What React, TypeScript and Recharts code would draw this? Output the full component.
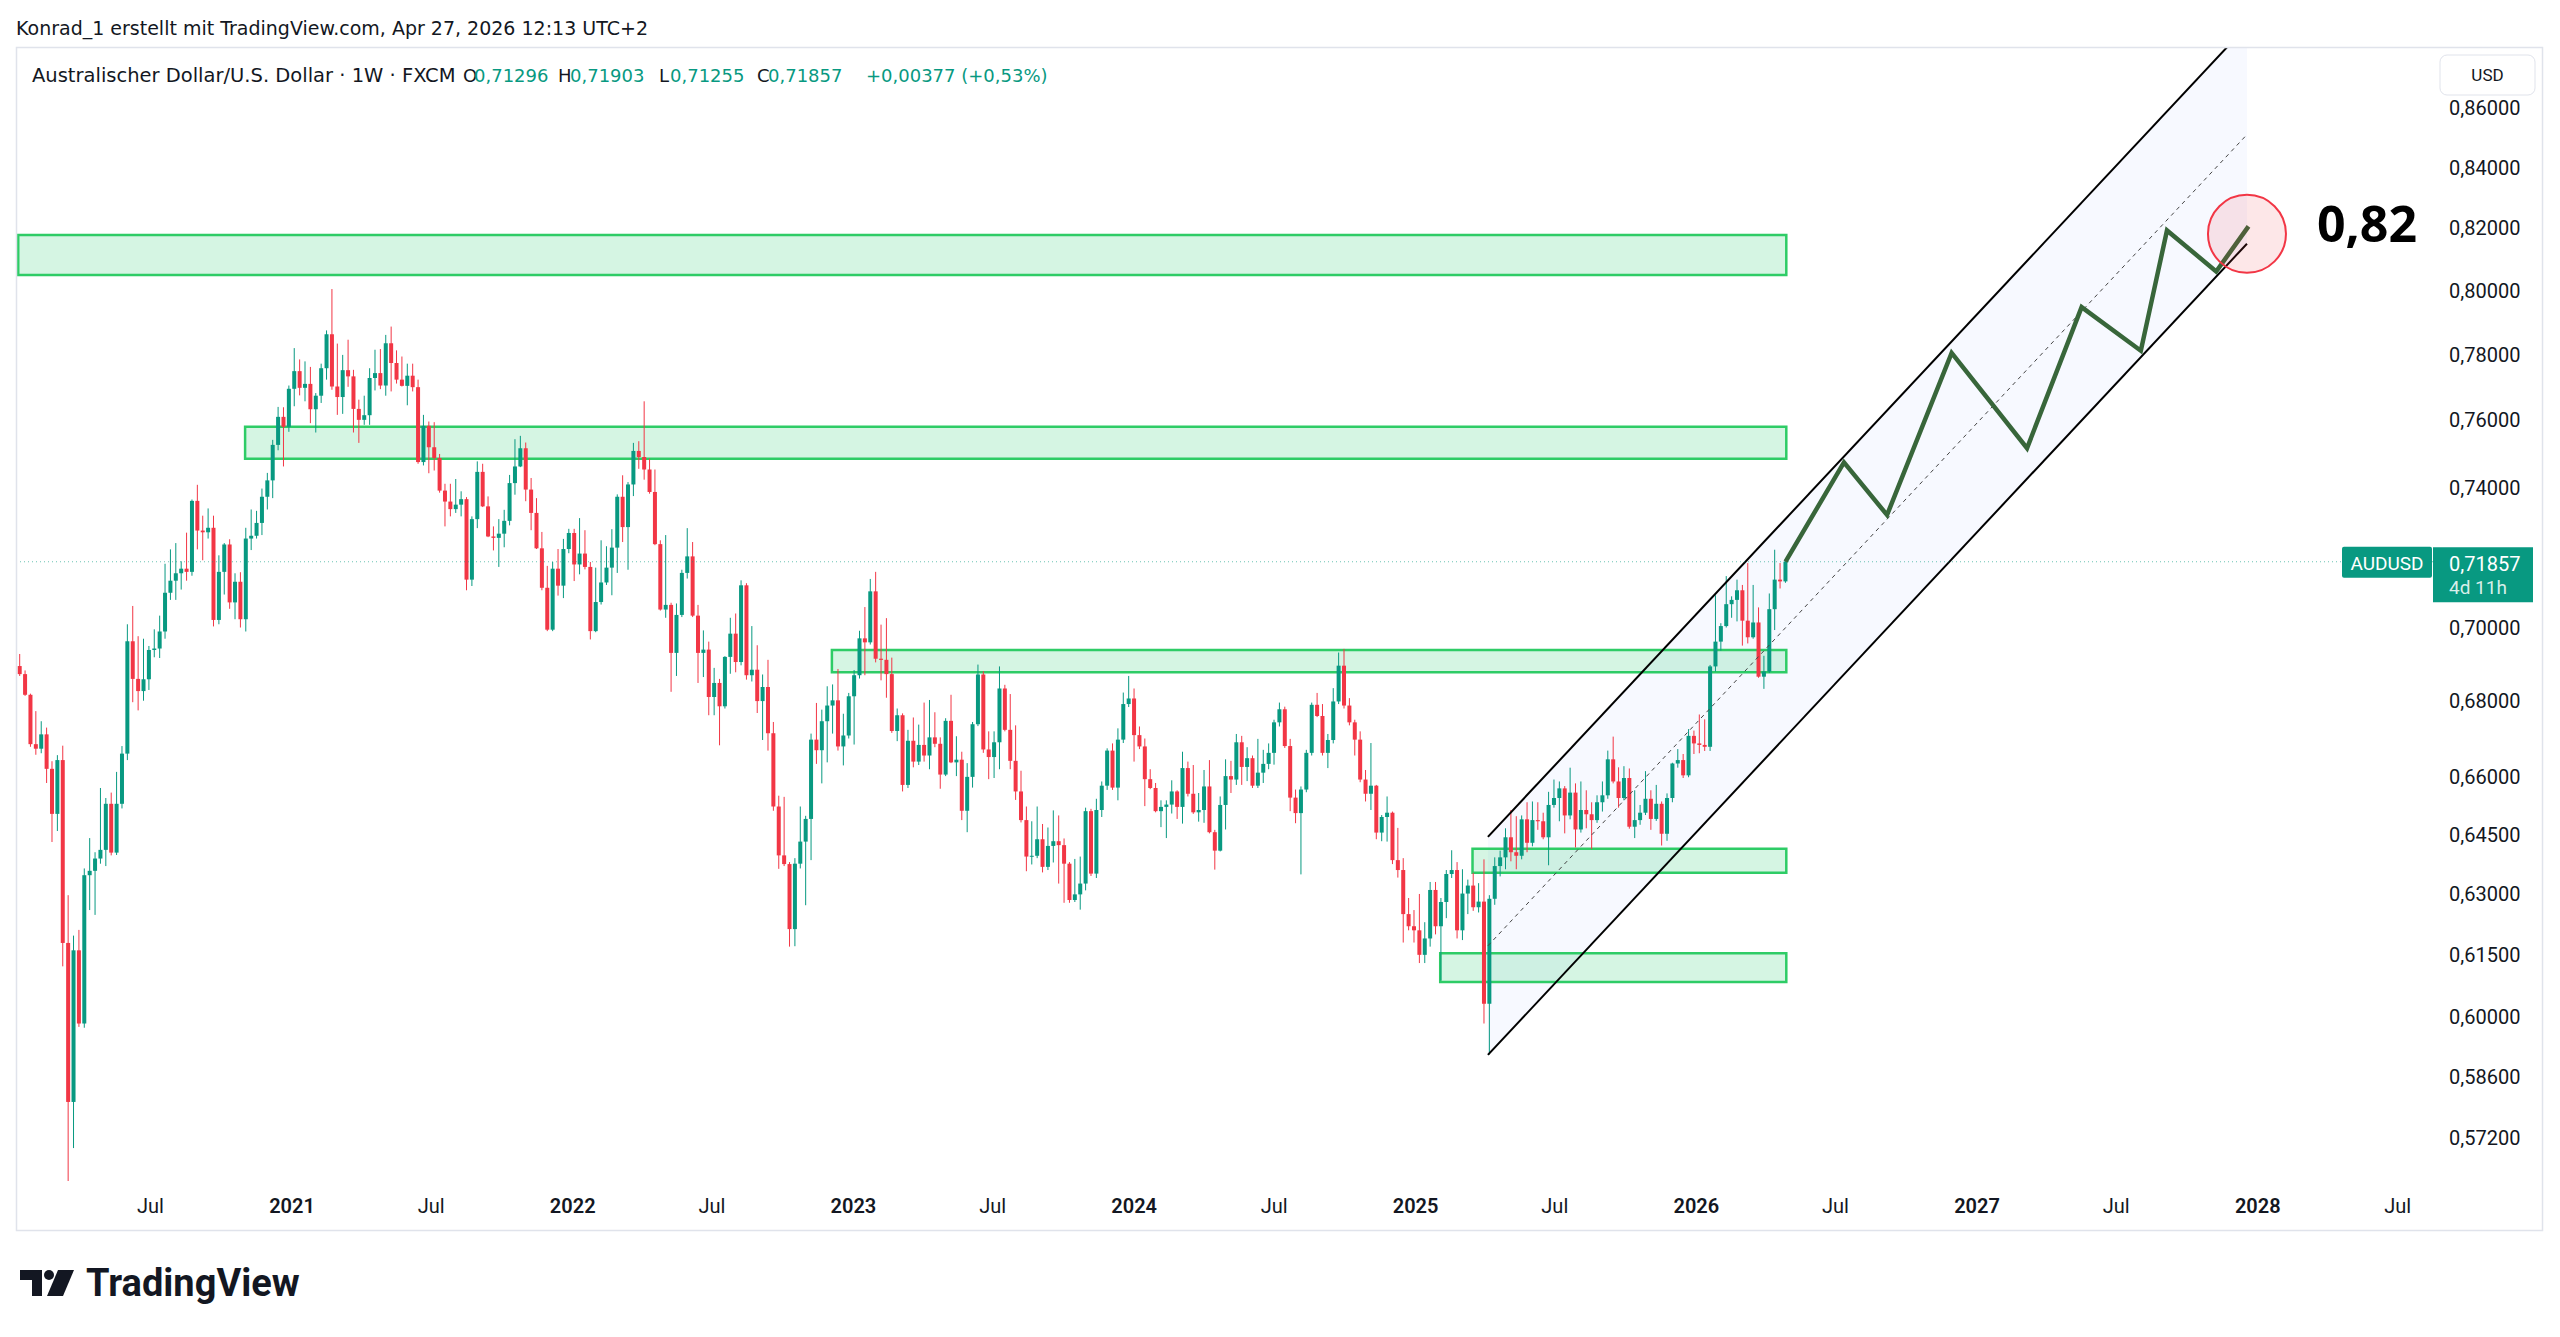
import React from 'react'
import {
  ComposedChart,
  Bar,
  Line,
  Area,
  XAxis,
  YAxis,
  ReferenceLine,
  ReferenceArea,
  ReferenceDot,
} from 'recharts'

const UP = '#089981'
const DOWN = '#f23645'
const INK = '#131722'
const UI_FONT = 'Roboto, "Noto Sans", sans-serif'
const HEAD_FONT = '"DejaVu Sans", Roboto, sans-serif'
const BODY_W = 4

// AUDUSD weekly candles (FXCM), [open, high, low, close] in pips, first bar = week of 13 Jan 2020
const FIRST_WEEK = '2020-01-13'

const candles2020 = [
  [6895, 6928, 6868, 6873], [6873, 6883, 6814, 6817], [6817, 6820, 6678, 6685], [6685, 6773, 6657, 6673],
  [6673, 6746, 6661, 6711], [6711, 6729, 6583, 6620], [6620, 6640, 6431, 6503], [6503, 6656, 6459, 6643],
  [6643, 6681, 6122, 6179], [6179, 6297, 5510, 5802], [5802, 6197, 5697, 6161], [6161, 6211, 5977, 5985],
  [5985, 6364, 5975, 6347], [6347, 6441, 6260, 6358], [6358, 6405, 6248, 6389], [6389, 6570, 6376, 6411],
  [6411, 6544, 6370, 6529], [6529, 6558, 6397, 6404], [6404, 6612, 6398, 6529], [6529, 6680, 6517, 6660],
  [6660, 7010, 6643, 6963], [6963, 7061, 6797, 6860], [6860, 6977, 6775, 6827], [6827, 6970, 6801, 6859],
  [6859, 6950, 6830, 6939], [6939, 6996, 6919, 6943], [6943, 7034, 6917, 6990], [6990, 7180, 6970, 7098],
  [7098, 7221, 7078, 7132], [7132, 7239, 7078, 7153], [7153, 7187, 7107, 7166], [7166, 7269, 7132, 7157],
  [7157, 7365, 7146, 7361], [7361, 7408, 7221, 7275], [7275, 7318, 7190, 7270], [7270, 7339, 7252, 7283],
  [7283, 7318, 7004, 7022], [7022, 7204, 7010, 7157], [7157, 7239, 7093, 7235], [7235, 7250, 7053, 7071],
  [7071, 7153, 7024, 7129], [7129, 7156, 7001, 7024], [7024, 7283, 6990, 7252], [7252, 7336, 7219, 7260],
  [7260, 7332, 7252, 7297], [7297, 7397, 7262, 7373], [7373, 7443, 7336, 7421], [7421, 7541, 7369, 7526],
  [7526, 7640, 7510, 7610], [7610, 7639, 7462, 7580], [7580, 7705, 7565, 7695],
]

const candles2021 = [
  [7695, 7820, 7642, 7749], [7749, 7785, 7675, 7698], [7698, 7779, 7657, 7710], [7710, 7762, 7591, 7633],
  [7633, 7682, 7563, 7674], [7674, 7772, 7652, 7758], [7758, 7875, 7723, 7863], [7863, 8005, 7692, 7702],
  [7702, 7834, 7616, 7670], [7670, 7799, 7619, 7752], [7752, 7846, 7701, 7733], [7733, 7753, 7563, 7634],
  [7634, 7662, 7532, 7601], [7601, 7674, 7586, 7615], [7615, 7758, 7586, 7728], [7728, 7815, 7690, 7743],
  [7743, 7817, 7694, 7705], [7705, 7861, 7674, 7835], [7835, 7887, 7687, 7774], [7774, 7813, 7711, 7723],
  [7723, 7794, 7702, 7704], [7704, 7772, 7645, 7735], [7735, 7772, 7687, 7700], [7700, 7723, 7470, 7475],
  [7475, 7616, 7465, 7583], [7583, 7596, 7442, 7519], [7519, 7594, 7450, 7487], [7487, 7499, 7385, 7391],
  [7391, 7411, 7287, 7359], [7359, 7411, 7316, 7337], [7337, 7425, 7326, 7350], [7350, 7389, 7316, 7366],
  [7366, 7372, 7105, 7135], [7135, 7316, 7117, 7308], [7308, 7477, 7282, 7446], [7446, 7470, 7343, 7345],
  [7345, 7374, 7256, 7258], [7258, 7287, 7218, 7254], [7254, 7308, 7171, 7266], [7266, 7335, 7227, 7303],
  [7303, 7437, 7290, 7413], [7413, 7543, 7379, 7462], [7462, 7553, 7460, 7516], [7516, 7533, 7360, 7394],
  [7394, 7428, 7276, 7326], [7326, 7369, 7222, 7224], [7224, 7271, 7105, 7112], [7112, 7174, 6991, 6995],
  [6995, 7185, 6991, 7166], [7166, 7222, 7090, 7118], [7118, 7251, 7083, 7222], [7222, 7280, 7210, 7268],
]

const candles2022 = [
  [7268, 7280, 7131, 7178], [7178, 7311, 7150, 7209], [7209, 7276, 7164, 7171], [7171, 7185, 6968, 6991],
  [6991, 7169, 6988, 7072], [7072, 7247, 7065, 7127], [7127, 7230, 7120, 7169], [7169, 7279, 7091, 7226],
  [7226, 7380, 7154, 7373], [7373, 7436, 7242, 7285], [7285, 7416, 7163, 7409], [7409, 7532, 7375, 7508],
  [7508, 7537, 7455, 7490], [7490, 7657, 7423, 7453], [7453, 7485, 7382, 7387], [7387, 7453, 7233, 7236],
  [7236, 7247, 7048, 7051], [7051, 7262, 7028, 7064], [7064, 7070, 6825, 6931], [6931, 7068, 6868, 7036],
  [7036, 7163, 7030, 7154], [7154, 7282, 7138, 7201], [7201, 7242, 7030, 7034], [7034, 7064, 6849, 6931],
  [6931, 6993, 6865, 6940], [6940, 6962, 6762, 6811], [6811, 6890, 6762, 6849], [6849, 6860, 6682, 6786],
  [6786, 6922, 6780, 6920], [6920, 7028, 6874, 6984], [6984, 7040, 6878, 6906], [6906, 7133, 6897, 7119],
  [7119, 7125, 6858, 6870], [6870, 7005, 6853, 6885], [6885, 6952, 6768, 6800], [6800, 6872, 6696, 6838],
  [6838, 6912, 6668, 6714], [6714, 6744, 6511, 6522], [6522, 6550, 6363, 6397], [6397, 6547, 6370, 6375],
  [6375, 6380, 6170, 6213], [6213, 6390, 6171, 6376], [6376, 6522, 6364, 6432], [6432, 6498, 6272, 6490],
  [6490, 6713, 6385, 6697], [6697, 6795, 6633, 6669], [6669, 6777, 6582, 6746], [6746, 6840, 6637, 6788],
  [6788, 6845, 6713, 6802], [6802, 6887, 6668, 6679], [6679, 6766, 6629, 6708], [6708, 6822, 6700, 6813],
]

const candles2023 = [
  [6813, 6884, 6684, 6870], [6870, 6992, 6861, 6971], [6971, 7058, 6870, 6960], [6960, 7137, 6954, 7102],
  [7102, 7157, 6905, 6915], [6915, 7009, 6856, 6912], [6912, 7027, 6809, 6873], [6873, 6918, 6715, 6720],
  [6720, 6780, 6693, 6762], [6762, 6767, 6561, 6578], [6578, 6723, 6570, 6694], [6694, 6756, 6624, 6639],
  [6639, 6737, 6630, 6683], [6683, 6796, 6639, 6655], [6655, 6803, 6619, 6703], [6703, 6770, 6677, 6686],
  [6686, 6703, 6568, 6605], [6605, 6754, 6601, 6747], [6747, 6817, 6635, 6637], [6637, 6706, 6601, 6644],
  [6644, 6665, 6487, 6511], [6511, 6635, 6456, 6599], [6599, 6744, 6571, 6738], [6738, 6899, 6733, 6872],
  [6872, 6881, 6662, 6671], [6671, 6719, 6593, 6651], [6651, 6719, 6596, 6690], [6690, 6894, 6619, 6834],
  [6834, 6844, 6719, 6723], [6723, 6819, 6619, 6641], [6641, 6735, 6539, 6561], [6561, 6615, 6481, 6487],
  [6487, 6522, 6357, 6394], [6394, 6484, 6374, 6396], [6396, 6522, 6390, 6438], [6438, 6477, 6354, 6368],
  [6368, 6468, 6360, 6421], [6421, 6512, 6379, 6433], [6433, 6499, 6326, 6423], [6423, 6440, 6278, 6376],
  [6376, 6380, 6278, 6285], [6285, 6388, 6280, 6299], [6299, 6394, 6261, 6326], [6326, 6519, 6309, 6510],
  [6510, 6516, 6345, 6351], [6351, 6542, 6340, 6513], [6513, 6587, 6495, 6576], [6576, 6674, 6565, 6668],
  [6668, 6687, 6565, 6571], [6571, 6727, 6538, 6697], [6697, 6823, 6688, 6792], [6792, 6868, 6784, 6807],
]

const candles2024 = [
  [6807, 6834, 6639, 6709], [6709, 6732, 6672, 6679], [6679, 6700, 6523, 6593], [6593, 6619, 6567, 6570],
  [6570, 6583, 6507, 6510], [6510, 6538, 6469, 6521], [6521, 6538, 6441, 6527], [6527, 6590, 6504, 6561],
  [6561, 6564, 6490, 6521], [6521, 6665, 6478, 6622], [6622, 6639, 6548, 6555], [6555, 6630, 6503, 6507],
  [6507, 6557, 6483, 6513], [6513, 6617, 6480, 6574], [6574, 6643, 6453, 6456], [6456, 6462, 6361, 6409],
  [6409, 6548, 6407, 6526], [6526, 6645, 6463, 6601], [6601, 6641, 6557, 6592], [6592, 6712, 6578, 6690],
  [6690, 6707, 6578, 6625], [6625, 6677, 6588, 6648], [6648, 6655, 6570, 6576], [6576, 6699, 6570, 6610],
  [6610, 6670, 6583, 6633], [6633, 6687, 6619, 6662], [6662, 6750, 6631, 6743], [6743, 6796, 6732, 6778],
  [6778, 6785, 6675, 6680], [6680, 6699, 6510, 6545], [6545, 6566, 6479, 6505], [6505, 6574, 6349, 6566],
  [6566, 6670, 6559, 6662], [6662, 6796, 6655, 6790], [6790, 6822, 6757, 6760], [6760, 6792, 6655, 6662],
  [6662, 6712, 6622, 6696], [6696, 6835, 6687, 6799], [6799, 6932, 6792, 6896], [6896, 6942, 6780, 6788],
  [6788, 6808, 6735, 6743], [6743, 6750, 6655, 6697], [6697, 6719, 6585, 6592], [6592, 6617, 6535, 6555],
  [6555, 6688, 6513, 6576], [6576, 6578, 6438, 6455], [6455, 6500, 6433, 6495], [6495, 6548, 6432, 6506],
  [6506, 6509, 6375, 6385], [6385, 6467, 6341, 6360], [6360, 6390, 6180, 6250], [6250, 6290, 6210, 6220],
  [6220, 6260, 6180, 6210],
]

const candles2025 = [
  [6210, 6300, 6130, 6150], [6150, 6230, 6130, 6190], [6190, 6330, 6170, 6310], [6310, 6330, 6200, 6220],
  [6220, 6290, 6088, 6280], [6280, 6360, 6240, 6350], [6350, 6410, 6340, 6360], [6360, 6380, 6190, 6210],
  [6210, 6362, 6186, 6301], [6301, 6336, 6250, 6321], [6321, 6353, 6258, 6267], [6267, 6327, 6254, 6281],
  [6281, 6387, 5985, 6032], [6032, 6297, 5912, 6288], [6288, 6392, 6273, 6370], [6370, 6409, 6344, 6392],
  [6392, 6466, 6362, 6443], [6443, 6513, 6382, 6405], [6405, 6497, 6362, 6396], [6396, 6499, 6387, 6489],
  [6489, 6533, 6405, 6429], [6429, 6535, 6420, 6487], [6487, 6533, 6462, 6484], [6484, 6506, 6438, 6443],
  [6443, 6560, 6372, 6526], [6526, 6592, 6519, 6544], [6544, 6587, 6484, 6569], [6569, 6575, 6453, 6499],
  [6499, 6623, 6489, 6558], [6558, 6582, 6417, 6463], [6463, 6587, 6455, 6513], [6513, 6564, 6466, 6502],
  [6502, 6533, 6413, 6487], [6487, 6551, 6480, 6533], [6533, 6587, 6509, 6551], [6551, 6668, 6542, 6645],
  [6645, 6705, 6582, 6587], [6587, 6624, 6519, 6544], [6544, 6627, 6538, 6596], [6596, 6621, 6465, 6470],
  [6470, 6564, 6441, 6487], [6487, 6526, 6475, 6506], [6506, 6614, 6500, 6542], [6542, 6564, 6462, 6490],
  [6490, 6578, 6485, 6529], [6529, 6535, 6422, 6452], [6452, 6556, 6434, 6544], [6544, 6636, 6533, 6634],
  [6634, 6672, 6623, 6643], [6643, 6659, 6596, 6603], [6603, 6725, 6598, 6707], [6707, 6721, 6659, 6687],
]

const candles2026 = [
  [6687, 6764, 6661, 6683], [6683, 6751, 6667, 6678], [6678, 6898, 6667, 6894], [6894, 7091, 6880, 6962],
  [6962, 7013, 6937, 7005], [7005, 7145, 7001, 7066], [7066, 7088, 7028, 7078], [7078, 7135, 7018, 7105],
  [7105, 7120, 6951, 7020], [7020, 7182, 6957, 6974], [6974, 7120, 6970, 7015], [7015, 7057, 6863, 6866],
  [6866, 6923, 6833, 6880], [6880, 7096, 6876, 7052], [7052, 7220, 6994, 7135], [7135, 7182, 7110, 7130],
  [7130, 7190, 7126, 7186],
]

const lastPrice = 0.71857

// price axis labels
const priceTicks = [0.572, 0.586, 0.6, 0.615, 0.63, 0.645, 0.66, 0.68, 0.7, 0.74, 0.76, 0.78, 0.8, 0.82, 0.84, 0.86]

// time axis labels
const timeTickDates = [
  '2020-07-01', '2021-01-01', '2021-07-01', '2022-01-01', '2022-07-01', '2023-01-01', '2023-07-01',
  '2024-01-01', '2024-07-01', '2025-01-01', '2025-07-01', '2026-01-01', '2026-07-01', '2027-01-01',
  '2027-07-01', '2028-01-01', '2028-07-01',
]
const timeTickLabels = [
  'Jul', '2021', 'Jul', '2022', 'Jul', '2023', 'Jul', '2024', 'Jul', '2025', 'Jul', '2026', 'Jul', '2027',
  'Jul', '2028', 'Jul',
]

// support / resistance boxes
const zoneStarts = ['2020-01-11', '2020-11-01', '2022-12-04', '2025-03-16', '2025-02-02']
const zoneEnd = '2026-04-28'
const zoneLows = [0.805, 0.7485, 0.6878, 0.6353, 0.6084]
const zoneHighs = [0.8178, 0.758, 0.6939, 0.6414, 0.6154]

// rising channel (start / end)
const channelDates = ['2025-04-05', '2027-12-18']
const channelLower = [0.5911, 0.815]
const channelUpper = [0.6444, 0.8884]
const channelMid = [0.6172, 0.851]

// projected path
const projectionDates = [
  '2026-04-27', '2026-07-12', '2026-09-06', '2026-11-29', '2027-03-07',
  '2027-05-17', '2027-08-02', '2027-09-05', '2027-11-08', '2027-12-20',
]
const projectionPrices = [0.7186, 0.7474, 0.732, 0.7805, 0.7516, 0.7948, 0.7812, 0.8193, 0.8061, 0.8206]

const targetDate = '2027-12-18'
const targetPrice = 0.8182

// days since 2021-01-01
const dayOf = (iso: string) =>
  Math.round((Date.parse(iso + 'T00:00:00Z') - Date.parse('2021-01-01T00:00:00Z')) / 86400000)

const X_DOMAIN: [number, number] = [-357.6, 2783.9]
const Y_DOMAIN: [number, number] = [0.56232, 0.88067]

const weeks = [
  ...candles2020, ...candles2021, ...candles2022, ...candles2023,
  ...candles2024, ...candles2025, ...candles2026,
].map((k, i) => {
  const [o, h, l, c] = k.map((v) => v / 10000)
  return { day: dayOf(FIRST_WEEK) + 7 * i, o, h, l, c, range: [l, h] }
})

const channelBand = channelDates.map((d, i) => ({ day: dayOf(d), band: [channelLower[i], channelUpper[i]] }))
const projection = projectionDates.map((d, i) => ({ day: dayOf(d), price: projectionPrices[i] }))
const timeTicks = timeTickDates.map(dayOf)
const timeLabel = new Map(timeTicks.map((t, i) => [t, timeTickLabels[i]]))

function Candle(props: any) {
  const { x, y, width, height, payload } = props
  if (!payload || !Number.isFinite(y) || !Number.isFinite(height)) return null
  const top = Math.min(y, y + height)
  const bottom = Math.max(y, y + height)
  const { o, h, l, c } = payload
  const lh = Math.log(h)
  const span = lh - Math.log(l)
  // log scale -> pixel is linear in ln(price)
  const at = (v: number) => (span > 0 ? top + ((bottom - top) * (lh - Math.log(v))) / span : top)
  const color = c >= o ? UP : DOWN
  const bTop = at(Math.max(o, c))
  const bBot = at(Math.min(o, c))
  const cx = x + width / 2
  return (
    <g>
      <line x1={cx} x2={cx} y1={top} y2={bottom} stroke={color} strokeWidth={1} />
      <rect x={cx - BODY_W / 2} y={bTop} width={BODY_W} height={Math.max(1, bBot - bTop)} fill={color} />
    </g>
  )
}

function TimeTick({ x, y, payload }: any) {
  const label = timeLabel.get(payload.value) ?? ''
  const isYear = /^\d{4}$/.test(label)
  return (
    <text x={x} y={y} dy="0.71em" textAnchor="middle" fill={INK} fontSize={20}
      fontFamily={UI_FONT} fontWeight={isYear ? 600 : 400}>
      {label}
    </text>
  )
}

function LastPriceTag(props: any) {
  const vb = props.viewBox
  if (!vb) return null
  const right = vb.x + vb.width
  const y = vb.y
  return (
    <g>
      <rect x={right - 91} y={y - 15} width={90} height={31} rx={2} fill={UP} />
      <text x={right - 46} y={y + 8} textAnchor="middle" fill="#fff" fontSize={19} fontFamily={UI_FONT}>AUDUSD</text>
      <rect x={right} y={y - 14.5} width={100} height={55} fill={UP} />
      <text x={right + 16} y={y + 9} fill="#fff" fontSize={20} fontFamily={UI_FONT}>
        {lastPrice.toFixed(5).replace('.', ',')}
      </text>
      <text x={right + 16} y={y + 32} fill="rgba(255,255,255,0.85)" fontSize={19} fontFamily={UI_FONT}>4d 11h</text>
    </g>
  )
}

function Overlay() {
  const legend = [
    { x: 32, t: 'Australischer Dollar/U.S. Dollar · 1W · FXCM', c: INK },
    { x: 463, t: 'O', c: INK }, { x: 474, t: '0,71296', c: UP },
    { x: 558, t: 'H', c: INK }, { x: 570, t: '0,71903', c: UP },
    { x: 659, t: 'L', c: INK }, { x: 670, t: '0,71255', c: UP },
    { x: 757, t: 'C', c: INK }, { x: 768, t: '0,71857', c: UP },
    { x: 866, t: '+0,00377 (+0,53%)', c: UP },
  ]
  return (
    <svg width={2560} height={1337} style={{ position: 'absolute', left: 0, top: 0, pointerEvents: 'none' }}>
      <rect x={16.5} y={47.5} width={2526} height={1183} fill="none" stroke="#e0e3eb" strokeWidth={1.5} />
      <text x={16} y={35} fill={INK} fontSize={19} fontFamily={HEAD_FONT}>
        Konrad_1 erstellt mit TradingView.com, Apr 27, 2026 12:13 UTC+2
      </text>
      {legend.map((s) => (
        <text key={s.x} x={s.x} y={82} fill={s.c} fontSize={s.x === 32 ? 19.5 : 18} fontFamily={HEAD_FONT}>{s.t}</text>
      ))}
      <rect x={2440} y={55} width={95} height={40} rx={7} fill="#fff" stroke="#e0e3eb" />
      <text x={2487.5} y={81} textAnchor="middle" fill={INK} fontSize={17} fontFamily={UI_FONT}>USD</text>
      <text x={2317} y={242} fill="#000" fontSize={50} fontWeight={700} fontFamily='"Open Sans", Roboto, sans-serif'>0,82</text>
      <path d="M20 1270 H42 V1296 H32 V1280 H20 Z" fill={INK} />
      <circle cx={49} cy={1275} r={5} fill={INK} />
      <path d="M58 1270 H74 L63 1296 H47 Z" fill={INK} />
      <text x={86} y={1296} fill={INK} fontSize={38} fontWeight={700} fontFamily={UI_FONT}>TradingView</text>
    </svg>
  )
}

export default function App() {
  return (
    <div style={{ position: 'absolute', left: 0, top: 0, width: 2560, height: 1337, background: '#fff', overflow: 'hidden' }}>
      <ComposedChart width={2560} height={1337} data={weeks} margin={{ top: 48, right: 20, bottom: 107, left: 17 }}>
        <XAxis dataKey="day" type="number" domain={X_DOMAIN} allowDataOverflow ticks={timeTicks} interval={0}
          tick={<TimeTick />} axisLine={false} tickLine={false} tickSize={0} tickMargin={18} height={49} />
        <YAxis orientation="right" scale="log" type="number" domain={Y_DOMAIN} allowDataOverflow ticks={priceTicks}
          interval={0} width={107} axisLine={false} tickLine={false} tickSize={0} tickMargin={16}
          tick={{ fill: INK, fontSize: 20, fontFamily: UI_FONT }}
          tickFormatter={(v: number) => v.toFixed(5).replace('.', ',')} />

        <Area data={channelBand} dataKey="band" type="linear" stroke="none" fill="rgba(41,98,255,0.035)"
          fillOpacity={1} isAnimationActive={false} />

        <Bar dataKey="range" barSize={4} shape={(p: any) => <Candle {...p} />} isAnimationActive={false} />

        {zoneStarts.map((s, i) => (
          <ReferenceArea key={s} x1={dayOf(s)} x2={dayOf(zoneEnd)} y1={zoneLows[i]} y2={zoneHighs[i]}
            fill="rgba(46,204,113,0.2)" fillOpacity={1} stroke="#2ecc66" strokeWidth={2.5} ifOverflow="hidden" />
        ))}

        <ReferenceLine ifOverflow="hidden" stroke="#000" strokeWidth={2}
          segment={[{ x: dayOf(channelDates[0]), y: channelUpper[0] }, { x: dayOf(channelDates[1]), y: channelUpper[1] }]} />
        <ReferenceLine ifOverflow="hidden" stroke="#000" strokeWidth={2}
          segment={[{ x: dayOf(channelDates[0]), y: channelLower[0] }, { x: dayOf(channelDates[1]), y: channelLower[1] }]} />
        <ReferenceLine ifOverflow="hidden" stroke="#444" strokeWidth={1} strokeDasharray="4 4"
          segment={[{ x: dayOf(channelDates[0]), y: channelMid[0] }, { x: dayOf(channelDates[1]), y: channelMid[1] }]} />

        <ReferenceLine y={lastPrice} stroke={UP} strokeOpacity={0.6} strokeDasharray="1 3" label={<LastPriceTag />} />

        <Line data={projection} dataKey="price" type="linear" stroke="#38663a" strokeWidth={4.5} dot={false}
          isAnimationActive={false} strokeLinejoin="miter" />

        <ReferenceDot x={dayOf(targetDate)} y={targetPrice} r={39} fill="rgba(242,54,69,0.12)" stroke={DOWN}
          strokeWidth={2} ifOverflow="visible" />
      </ComposedChart>
      <Overlay />
    </div>
  )
}
